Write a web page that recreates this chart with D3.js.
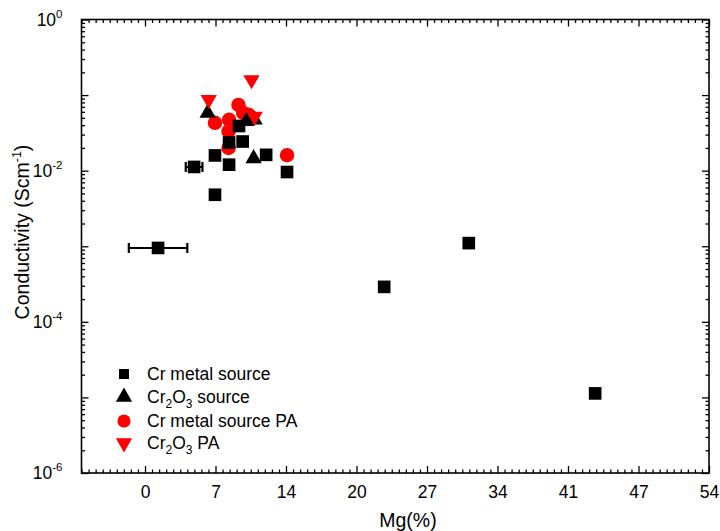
<!DOCTYPE html>
<html><head><meta charset="utf-8">
<script src="https://cdn.jsdelivr.net/npm/d3@7"></script>
<style>body{margin:0;background:#fff}svg{display:block}text{font-family:"Liberation Sans",Arial,sans-serif}</style>
</head><body>
<svg id="c" width="720" height="531"></svg>
<script>
// ---- data ----
const xTickValues = [0, 6.75, 13.5, 20.25, 27, 33.75, 40.5, 47.25, 54];
const xTickLabels = ["0", "7", "14", "20", "27", "34", "41", "47", "54"];
const yTickExponents = [0, -2, -4, -6];

// Cr metal source (squares): x, y, xerr
const crMetalX = [1.25, 4.7, 6.7, 6.7, 8.05, 8.05, 9.35, 9.0, 11.6, 13.6, 22.9, 31.0, 43.1];
const crMetalY = [9.5e-4, 0.0112, 4.8e-3, 0.0159, 0.012, 0.0236, 0.0243, 0.039, 0.0162, 0.0096, 2.9e-4, 1.1e-3, 1.13e-5];
const crMetalXErr = [2.8, 0.8, 0, 0, 0, 0, 0, 0, 0, 0, 0, 0, 0];

// Cr2O3 source (up triangles)
const cr2o3X = [6.0, 10.4, 9.7, 10.5];
const cr2o3Y = [0.058, 0.0145, 0.045, 0.047];

// Cr metal source PA (red circles)
const crMetalPAX = [6.7, 8.05, 8.0, 8.0, 8.95, 9.4, 9.9, 13.6];
const crMetalPAY = [0.043, 0.047, 0.033, 0.020, 0.074, 0.058, 0.055, 0.016];

// Cr2O3 PA (red down triangles)
const cr2o3PAX = [6.1, 10.2, 10.5];
const cr2o3PAY = [0.087, 0.159, 0.052];

const legendLabels = [
  [["Cr metal source", 0]],
  [["Cr", 0], ["2", 1], ["O", 0], ["3", 1], [" source", 0]],
  [["Cr metal source PA", 0]],
  [["Cr", 0], ["2", 1], ["O", 0], ["3", 1], [" PA", 0]]
];

// ---- layout ----
const svg = d3.select("#c");
const L = 81.5, R = 709, T = 19.5, B = 473;
const x = d3.scaleLinear().domain([-6.08, 54]).range([L, R]);
const y = d3.scaleLog().domain([1e-6, 1]).range([B, T]);
const FS = 17.5;

const g = svg.append("g");

// minor ticks
const xMinor = [];
for (let k = -9; k <= 80; k++) {
  if (k % 10 === 0) continue;
  const v = k * 0.675;
  if (v >= -6.08 && v <= 54) xMinor.push(v);
}
const yMinor = [], yMajor = [];
for (let e = -6; e <= 0; e++) {
  yMajor.push(Math.pow(10, e));
  if (e < 0) for (let k = 2; k <= 9; k++) yMinor.push(k * Math.pow(10, e));
}

function axisStyle(sel) {
  sel.select(".domain").remove();
  sel.selectAll("line").attr("stroke", "#000").attr("stroke-width", 1.3);
}

// bottom
g.append("g").attr("transform", `translate(0,${B})`)
  .call(d3.axisBottom(x).tickValues(xMinor).tickSize(-3.5).tickFormat(""))
  .call(axisStyle);
g.append("g").attr("transform", `translate(0,${B})`)
  .call(d3.axisBottom(x).tickValues(xTickValues).tickSize(-7)
    .tickFormat((d, i) => xTickLabels[i]).tickPadding(13))
  .call(axisStyle)
  .call(s => s.selectAll("text").attr("font-size", FS).attr("fill", "#000"));
// top
g.append("g").attr("transform", `translate(0,${T})`)
  .call(d3.axisTop(x).tickValues(xMinor).tickSize(-3.5).tickFormat("")).call(axisStyle);
g.append("g").attr("transform", `translate(0,${T})`)
  .call(d3.axisTop(x).tickValues(xTickValues).tickSize(-7).tickFormat("")).call(axisStyle);
// left
g.append("g").attr("transform", `translate(${L},0)`)
  .call(d3.axisLeft(y).tickValues(yMinor).tickSize(-3.5).tickFormat("")).call(axisStyle);
g.append("g").attr("transform", `translate(${L},0)`)
  .call(d3.axisLeft(y).tickValues(yMajor).tickSize(-7).tickFormat("")).call(axisStyle);
// right
g.append("g").attr("transform", `translate(${R},0)`)
  .call(d3.axisRight(y).tickValues(yMinor).tickSize(-3.5).tickFormat("")).call(axisStyle);
g.append("g").attr("transform", `translate(${R},0)`)
  .call(d3.axisRight(y).tickValues(yMajor).tickSize(-7).tickFormat("")).call(axisStyle);

// frame
g.append("rect").attr("x", L).attr("y", T).attr("width", R - L).attr("height", B - T)
  .attr("fill", "none").attr("stroke", "#000").attr("stroke-width", 1.6);

// y tick labels
yTickExponents.forEach(e => {
  const t = g.append("text").attr("x", L - 19).attr("y", y(Math.pow(10, e)) + 6)
    .attr("text-anchor", "end").attr("font-size", FS).attr("fill", "#000");
  t.append("tspan").text("10");
  t.append("tspan").attr("font-size", 11.5).attr("dy", -8).text(String(e));
});

// axis titles
g.append("text").attr("x", 408).attr("y", 527).attr("text-anchor", "middle")
  .attr("font-size", 19.5).text("Mg(%)");
const yt = g.append("text").attr("transform", `translate(29,232) rotate(-90)`)
  .attr("text-anchor", "middle").attr("font-size", 19.5);
yt.append("tspan").text("Conductivity (Scm");
yt.append("tspan").attr("font-size", 12.5).attr("dy", -8).text("-1");
yt.append("tspan").attr("dy", 8).text(")");

// markers
const sq = d3.symbol().type(d3.symbolSquare).size(160);
const triUp = d3.symbol().type(d3.symbolTriangle).size(115);
const circ = d3.symbol().type(d3.symbolCircle).size(165);
const pts = g.append("g");

// red circles first (drawn beneath)
crMetalPAX.forEach((v, i) => pts.append("path").attr("d", circ)
  .attr("transform", `translate(${x(v)},${y(crMetalPAY[i])})`).attr("fill", "#ff0000"));

// error bars
crMetalX.forEach((v, i) => {
  const e = crMetalXErr[i];
  if (!e) return;
  const yy = y(crMetalY[i]), x0 = x(v - e), x1 = x(v + e);
  pts.append("line").attr("x1", x0).attr("x2", x1).attr("y1", yy).attr("y2", yy)
    .attr("stroke", "#000").attr("stroke-width", 2);
  [x0, x1].forEach(xx => pts.append("line").attr("x1", xx).attr("x2", xx)
    .attr("y1", yy - 5).attr("y2", yy + 5).attr("stroke", "#000").attr("stroke-width", 2.2));
});

crMetalX.forEach((v, i) => pts.append("path").attr("d", sq)
  .attr("transform", `translate(${x(v)},${y(crMetalY[i])})`).attr("fill", "#000"));
cr2o3X.forEach((v, i) => pts.append("path").attr("d", triUp)
  .attr("transform", `translate(${x(v)},${y(cr2o3Y[i])})`).attr("fill", "#000"));
cr2o3PAX.forEach((v, i) => pts.append("path").attr("d", triUp)
  .attr("transform", `translate(${x(v)},${y(cr2o3PAY[i])}) rotate(180)`).attr("fill", "#ff0000"));

// legend
const legY = [374, 397, 421, 443];
const legSyms = [
  { d: d3.symbol().type(d3.symbolSquare).size(100), fill: "#000", rot: 0 },
  { d: d3.symbol().type(d3.symbolTriangle).size(115), fill: "#000", rot: 0 },
  { d: d3.symbol().type(d3.symbolCircle).size(135), fill: "#ff0000", rot: 0 },
  { d: d3.symbol().type(d3.symbolTriangle).size(115), fill: "#ff0000", rot: 180 }
];
legSyms.forEach((s, i) => {
  g.append("path").attr("d", s.d).attr("fill", s.fill)
    .attr("transform", `translate(124,${legY[i]}) rotate(${s.rot})`);
  const t = g.append("text").attr("x", 147).attr("y", legY[i] + 6).attr("font-size", FS);
  let prevSub = false;
  legendLabels[i].forEach(([str, sub]) => {
    const ts = t.append("tspan").text(str);
    if (sub && !prevSub) ts.attr("font-size", 12).attr("dy", 4.5);
    else if (sub) ts.attr("font-size", 12);
    else if (prevSub) ts.attr("dy", -4.5);
    prevSub = !!sub;
  });
});
</script>
</body></html>
